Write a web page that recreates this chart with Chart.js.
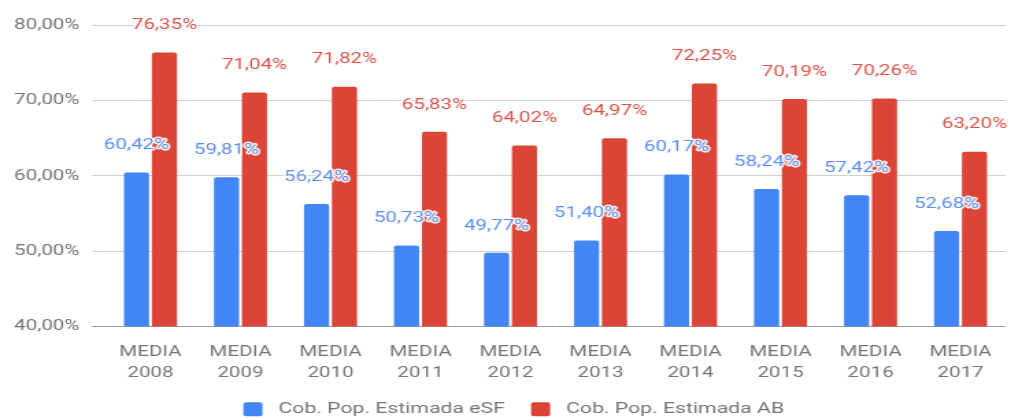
<!DOCTYPE html>
<html>
<head>
<meta charset="utf-8">
<script src="https://cdn.jsdelivr.net/npm/chart.js@4"></script>
<style>
  html, body { margin: 0; padding: 0; background: #fff; overflow: hidden; }
  /* o original é uma imagem esticada na horizontal */
  #Bar { width: 1011px; height: 418px; display: block; }
</style>
</head>
<body>
<canvas id="Bar" width="738" height="418" style="width:1011px;height:418px"></canvas>
<script>
// dados
const anos = ["2008", "2009", "2010", "2011", "2012", "2013", "2014", "2015", "2016", "2017"];
const esf = [60.42, 59.81, 56.24, 50.73, 49.77, 51.40, 60.17, 58.24, 57.42, 52.68];
const ab = [76.35, 71.04, 71.82, 65.83, 64.02, 64.97, 72.25, 70.19, 70.26, 63.20];
const serieNomes = ["Cob. Pop. Estimada eSF", "Cob. Pop. Estimada AB"];

const corBarra = ["#4285f4", "#db4437"];
const corLabel = ["#5b8ff0", "#d9534a"];

function fmt(v) {
  return v.toFixed(2).replace(".", ",") + "%";
}

// rótulos em cima das barras
const valorLabels = {
  id: "valorLabels",
  afterDatasetsDraw(chart) {
    const ctx = chart.ctx;
    ctx.save();
    ctx.font = "15px Roboto";
    ctx.textAlign = "center";
    ctx.textBaseline = "middle";
    ctx.lineJoin = "round";
    chart.data.datasets.forEach((ds, i) => {
      const meta = chart.getDatasetMeta(i);
      meta.data.forEach((bar, j) => {
        const txt = fmt(ds.data[j]);
        const y = bar.y - 27;
        ctx.lineWidth = 3;
        ctx.strokeStyle = "rgba(255,255,255,0.9)";
        ctx.strokeText(txt, bar.x, y);
        ctx.fillStyle = corLabel[i];
        ctx.fillText(txt, bar.x, y);
      });
    });
    ctx.restore();
  }
};

// legenda um pouco mais à direita, como no original
const moveLegenda = {
  id: "moveLegenda",
  afterLayout(chart) {
    if (chart.legend) {
      chart.legend.left += 8;
      chart.legend.right += 8;
      chart.legend.top -= 2;
    }
  }
};

Chart.defaults.font.family = "Roboto";
Chart.defaults.font.size = 15;
Chart.defaults.color = "#757575";

const corGrade = ctx => (ctx.tick && ctx.tick.value === 40 ? "#9e9e9e" : "#d0d0d0");

var ctx = document.getElementById("Bar");
var Bar = new Chart(ctx, {
  type: "bar",
  data: {
    labels: anos.map(a => ["MEDIA", a]),
    datasets: [
      {
        label: serieNomes[0],
        data: esf,
        backgroundColor: corBarra[0],
        borderRadius: { topLeft: 2, topRight: 2 },
        borderSkipped: "bottom",
      },
      {
        label: serieNomes[1],
        data: ab,
        backgroundColor: corBarra[1],
        borderRadius: { topLeft: 2, topRight: 2 },
        borderSkipped: "bottom",
      },
    ],
  },
  options: {
    responsive: false,
    animation: false,
    categoryPercentage: 0.62,
    barPercentage: 0.9,
    layout: { padding: { top: 25, right: 4, bottom: -11, left: 0 } },
    scales: {
      y: {
        min: 40,
        max: 80,
        ticks: {
          stepSize: 10,
          padding: 9,
          callback: v => fmt(v),
        },
        grid: {
          color: corGrade,
          tickLength: 10,
          tickColor: corGrade,
        },
        border: { display: false },
        afterFit(s) { s.width = 77; },
      },
      x: {
        grid: { display: false },
        border: { display: false },
        ticks: { padding: 8, autoSkip: false, maxRotation: 0, font: { lineHeight: 1.35 } },
        afterFit(s) { s.height = 58; },
      },
    },
    plugins: {
      legend: {
        position: "bottom",
        labels: {
          font: { size: 15.5 },
          boxWidth: 14,
          boxHeight: 14,
          padding: 19,
          useBorderRadius: true,
          borderRadius: 2,
          generateLabels(chart) {
            const itens = Chart.defaults.plugins.legend.labels.generateLabels(chart);
            itens.forEach(it => { it.text = " " + it.text; });
            return itens;
          },
        },
      },
      tooltip: { enabled: false },
    },
  },
  plugins: [valorLabels, moveLegenda],
});
</script>
</body>
</html>
